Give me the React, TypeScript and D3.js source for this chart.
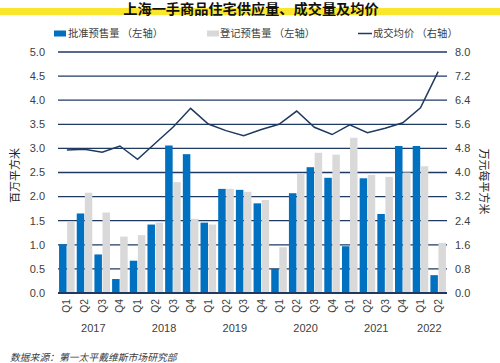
import React from "react";
import * as d3 from "d3";

const categories = [
  "2017Q1","2017Q2","2017Q3","2017Q4",
  "2018Q1","2018Q2","2018Q3","2018Q4",
  "2019Q1","2019Q2","2019Q3","2019Q4",
  "2020Q1","2020Q2","2020Q3","2020Q4",
  "2021Q1","2021Q2","2021Q3","2021Q4",
  "2022Q1","2022Q2",
];
const quarterLabels = categories.map((c) => c.slice(4));
const years = ["2017", "2018", "2019", "2020", "2021", "2022"];

// 批准预售量 (left axis, 百万平方米)
const approved = [1.01, 1.65, 0.80, 0.29, 0.67, 1.42, 3.06, 2.88, 1.46, 2.16, 2.14, 1.86, 0.50, 2.07, 2.61, 2.39, 0.97, 2.38, 1.64, 3.05, 3.05, 0.37];
// 登记预售量 (left axis)
const registered = [1.48, 2.08, 1.67, 1.17, 1.20, 1.46, 2.30, 1.54, 1.42, 2.16, 2.10, 1.93, 0.95, 2.48, 2.91, 2.87, 3.22, 2.45, 2.41, 2.50, 2.63, 1.04];
// 成交均价 (right axis, 万元每平方米)
const price = [4.75, 4.77, 4.67, 4.88, 4.44, 4.97, 5.50, 6.13, 5.61, 5.39, 5.22, 5.43, 5.60, 6.04, 5.50, 5.26, 5.58, 5.32, 5.47, 5.65, 6.15, 7.35];

const leftTicks = [0, 0.5, 1, 1.5, 2, 2.5, 3, 3.5, 4, 4.5, 5];
const rightTicks = [0, 0.8, 1.6, 2.4, 3.2, 4.0, 4.8, 5.6, 6.4, 7.2, 8.0];

const title = "上海一手商品住宅供应量、成交量及均价";
const legendLabels = ["批准预售量 （左轴）", "登记预售量 （左轴）", "成交均价 （右轴）"];
const leftTitle = "百万平方米";
const rightTitle = "万元每平方米";
const source = "数据来源：第一太平戴维斯市场研究部";

const BLUE = "#0070c0";
const GREY = "#d9d9d9";
const NAVY = "#1f3a60";
const TEXT = "#404040";
const FONT = "'Liberation Sans', Arial, 'Noto Sans CJK SC', sans-serif";
const CJK = "'Noto Sans CJK SC', 'Liberation Sans', sans-serif";

export default function App() {
  const W = 500, H = 363;
  const left = 58, right = 447, top = 52, bottom = 293;

  const x0 = d3.scaleBand<string>().domain(categories).range([left, right]).paddingInner(0.12).paddingOuter(0.06);
  const x1 = d3.scaleBand<string>().domain(["a", "b"]).range([0, x0.bandwidth()]).paddingInner(0.07);
  const yL = d3.scaleLinear().domain([0, 5]).range([bottom, top]);
  const yR = d3.scaleLinear().domain([0, 8]).range([bottom, top]);
  const cx = (c: string) => (x0(c) as number) + x0.bandwidth() / 2;

  const line = d3.line<number>().x((_, i) => cx(categories[i])).y((d) => yR(d));

  return (
    <svg width={W} height={H} style={{ position: "absolute", left: 0, top: 0, background: "#fff" }}>
      <rect x={0} y={0} width={W} height={H} fill="#fff" />
      {/* title */}
      <rect x={0} y={8} width={W} height={7} fill="#fbe62e" />
      <text x={251} y={14} textAnchor="middle" fontFamily={CJK} fontWeight="bold" fontSize={14.2} fill="#111">{title}</text>

      {/* legend */}
      <rect x={54} y={30.5} width={12} height={6} fill={BLUE} />
      <text x={68} y={37} fontFamily={CJK} fontSize={10.3} fill={TEXT}>{legendLabels[0]}</text>
      <rect x={207} y={30.5} width={12} height={6} fill={GREY} />
      <text x={220} y={37} fontFamily={CJK} fontSize={10.3} fill={TEXT}>{legendLabels[1]}</text>
      <line x1={358} x2={372} y1={33.5} y2={33.5} stroke={NAVY} strokeWidth={1.5} />
      <text x={373} y={37} fontFamily={CJK} fontSize={10.3} fill={TEXT}>{legendLabels[2]}</text>

      {/* gridlines */}
      {leftTicks.map((t) => (
        <line key={t} x1={left} x2={right} y1={yL(t)} y2={yL(t)} stroke={NAVY} strokeWidth={t === 0 ? 2 : 1.3} />
      ))}

      {/* bars */}
      {categories.map((c, i) => (
        <g key={c}>
          <rect x={(x0(c) as number) + (x1("a") as number)} y={yL(approved[i])} width={x1.bandwidth()} height={yL(0) - yL(approved[i])} fill={BLUE} />
          <rect x={(x0(c) as number) + (x1("b") as number)} y={yL(registered[i])} width={x1.bandwidth()} height={yL(0) - yL(registered[i])} fill={GREY} />
        </g>
      ))}
      <line x1={left} x2={right} y1={yL(0)} y2={yL(0)} stroke={NAVY} strokeWidth={2} />

      {/* price line */}
      <path d={line(price) as string} fill="none" stroke={NAVY} strokeWidth={1.5} strokeLinejoin="miter" />

      {/* left ticks */}
      {leftTicks.map((t) => (
        <text key={t} x={45} y={yL(t)} dy="0.35em" textAnchor="end" fontFamily={FONT} fontSize={11} fill={TEXT}>{t.toFixed(1)}</text>
      ))}
      {/* right ticks */}
      {rightTicks.map((t) => (
        <text key={t} x={455} y={yR(t)} dy="0.35em" textAnchor="start" fontFamily={FONT} fontSize={11} fill={TEXT}>{t.toFixed(1)}</text>
      ))}

      {/* axis titles */}
      <text transform={`translate(15,${(top + bottom) / 2 + 3}) rotate(-90)`} textAnchor="middle" dy="0.35em" fontFamily={CJK} fontSize={11} fill="#222">{leftTitle}</text>
      <text transform={`translate(484,${(top + bottom) / 2 + 9}) rotate(90)`} textAnchor="middle" dy="0.35em" fontFamily={CJK} fontSize={11} fill="#222">{rightTitle}</text>

      {/* quarter labels */}
      {categories.map((c, i) => (
        <text key={c} transform={`translate(${cx(c)},299) rotate(-90)`} textAnchor="end" dy="0.35em" fontFamily={FONT} fontSize={10.3} fill={TEXT}>{quarterLabels[i]}</text>
      ))}
      {/* year labels */}
      {years.map((y) => {
        const qs = categories.filter((c) => c.startsWith(y));
        const mid = (cx(qs[0]) + cx(qs[qs.length - 1])) / 2;
        return <text key={y} x={mid} y={332} textAnchor="middle" fontFamily={FONT} fontSize={11} fill={TEXT}>{y}</text>;
      })}

      {/* source */}
      <text x={10} y={361} fontFamily={CJK} fontStyle="italic" fontSize={9.8} fill={TEXT}>{source}</text>
    </svg>
  );
}
